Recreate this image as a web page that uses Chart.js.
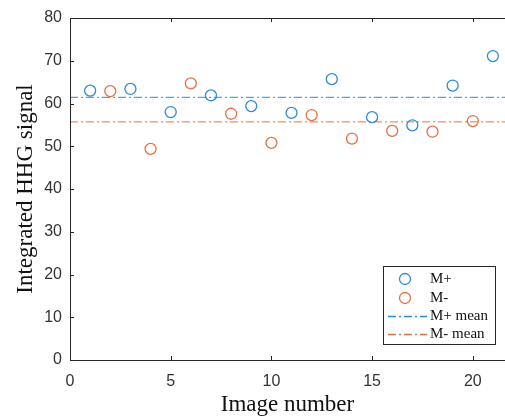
<!DOCTYPE html>
<html>
<head>
<meta charset="utf-8">
<script src="https://cdn.jsdelivr.net/npm/chart.js@4/dist/chart.umd.min.js"></script>
<style>
  html, body { margin: 0; padding: 0; background: #fff; }
  #wrap { width: 505px; height: 419px; }
</style>
</head>
<body>
<div id="wrap"><canvas id="hhg"></canvas></div>
<script>
// image numbers and integrated signal
const plusImages = [1, 3, 5, 7, 9, 11, 13, 15, 17, 19, 21];
const plusSignal = [63.0, 63.4, 58.0, 61.9, 59.4, 57.8, 65.7, 56.8, 54.9, 64.2, 71.1];
const minusImages = [2, 4, 6, 8, 10, 12, 14, 16, 18, 20];
const minusSignal = [62.9, 49.4, 64.7, 57.6, 50.8, 57.3, 51.8, 53.6, 53.4, 55.9];
const plusMean = 61.45;
const minusMean = 55.7;
const xTicks = [0, 5, 10, 15, 20];
const yTicks = [0, 10, 20, 30, 40, 50, 60, 70, 80];
const legendLabels = ["M+", "M-", "M+ mean", "M- mean"];

const blue = "#2f8ad3";
const orange = "#e57043";
const axisColor = "#333333";
const xMin = 0, xMax = 21.6;

function pts(xs, ys) {
  return xs.map((x, i) => ({ x: x, y: ys[i] }));
}

// inward ticks, box edges and the boxed legend, like the original figure
const matlabAxes = {
  id: "matlabAxes",
  afterDraw(chart) {
    const ctx = chart.ctx;
    const a = chart.chartArea;
    const xs = chart.scales.x, ys = chart.scales.y;
    ctx.save();
    ctx.strokeStyle = "#262626";
    ctx.lineWidth = 1;
    ctx.beginPath();
    ctx.moveTo(a.right + 1, a.top + 0.5);
    ctx.lineTo(a.left + 0.5, a.top + 0.5);
    ctx.lineTo(a.left + 0.5, a.bottom + 0.5);
    ctx.lineTo(a.right + 1, a.bottom + 0.5);
    xTicks.forEach(v => {
      const px = Math.round(xs.getPixelForValue(v)) + 0.5;
      ctx.moveTo(px, a.bottom); ctx.lineTo(px, a.bottom - 4);
      ctx.moveTo(px, a.top); ctx.lineTo(px, a.top + 4);
    });
    yTicks.forEach(v => {
      const py = Math.round(ys.getPixelForValue(v)) + 0.5;
      ctx.moveTo(a.left, py); ctx.lineTo(a.left + 4, py);
    });
    ctx.stroke();

    // legend
    const bx = 383.5, by = 266.5, bw = 112, bh = 78;
    ctx.fillStyle = "#fff";
    ctx.fillRect(bx, by, bw, bh);
    ctx.strokeStyle = "#262626";
    ctx.strokeRect(bx, by, bw, bh);
    const rows = [279, 298, 316, 334];
    ctx.font = "15px 'Liberation Serif', serif";
    ctx.textBaseline = "middle";
    ctx.textAlign = "left";
    chart.data.datasets.forEach((ds, i) => {
      const y = rows[i];
      ctx.strokeStyle = ds.borderColor;
      ctx.lineWidth = 1.3;
      if (i < 2) {
        ctx.beginPath();
        ctx.arc(405, y, 5.5, 0, Math.PI * 2);
        ctx.stroke();
      } else {
        ctx.setLineDash(ds.borderDash);
        ctx.beginPath();
        ctx.moveTo(388, y + 0.5); ctx.lineTo(427, y + 0.5);
        ctx.stroke();
        ctx.setLineDash([]);
      }
      ctx.fillStyle = "#111";
      ctx.fillText(legendLabels[i], 430, y);
    });
    ctx.restore();
  }
};

new Chart(document.getElementById("hhg"), {
  type: "scatter",
  data: {
    datasets: [
      {
        label: legendLabels[0],
        data: pts(plusImages, plusSignal),
        borderColor: blue,
        backgroundColor: "rgba(0,0,0,0)",
        borderWidth: 1.3,
        pointRadius: 5.5,
        pointHoverRadius: 5.5
      },
      {
        label: legendLabels[1],
        data: pts(minusImages, minusSignal),
        borderColor: orange,
        backgroundColor: "rgba(0,0,0,0)",
        borderWidth: 1.3,
        pointRadius: 5.5,
        pointHoverRadius: 5.5
      },
      {
        label: legendLabels[2],
        type: "line",
        data: [{ x: xMin, y: plusMean }, { x: xMax, y: plusMean }],
        borderColor: blue,
        borderWidth: 1,
        borderDash: [8, 3, 2, 3],
        pointRadius: 0,
        fill: false
      },
      {
        label: legendLabels[3],
        type: "line",
        data: [{ x: xMin, y: minusMean }, { x: xMax, y: minusMean }],
        borderColor: orange,
        borderWidth: 1,
        borderDash: [8, 3, 2, 3],
        pointRadius: 0,
        fill: false
      }
    ]
  },
  options: {
    responsive: true,
    maintainAspectRatio: false,
    animation: false,
    layout: { autoPadding: false, padding: { top: 18, right: 0, left: 0, bottom: 0 } },
    plugins: {
      legend: { display: false },
      tooltip: { enabled: false }
    },
    scales: {
      x: {
        type: "linear",
        min: xMin,
        max: xMax,
        afterBuildTicks(s) { s.ticks = xTicks.map(v => ({ value: v })); },
        afterFit(s) { s.height = 59; s.paddingLeft = 0; s.paddingRight = 0; },
        grid: { display: false, drawTicks: false },
        border: { display: false },
        ticks: {
          padding: 12,
          color: axisColor,
          font: { family: "'Liberation Sans', Arial, sans-serif", size: 16 }
        },
        title: {
          display: true,
          text: "Image number",
          color: "#111",
          padding: { top: 0, bottom: 0 },
          font: { family: "'Liberation Serif', serif", size: 23 }
        }
      },
      y: {
        min: 0,
        max: 80,
        afterBuildTicks(s) { s.ticks = yTicks.map(v => ({ value: v })); },
        afterFit(s) { s.width = 70; s.paddingTop = 0; s.paddingBottom = 0; },
        grid: { display: false, drawTicks: false },
        border: { display: false },
        ticks: {
          padding: 8,
          color: axisColor,
          font: { family: "'Liberation Sans', Arial, sans-serif", size: 16 }
        },
        title: {
          display: true,
          text: "Integrated HHG signal",
          color: "#111",
          padding: { top: 12, bottom: 0 },
          font: { family: "'Liberation Serif', serif", size: 23 }
        }
      }
    }
  },
  plugins: [matlabAxes]
});
</script>
</body>
</html>
